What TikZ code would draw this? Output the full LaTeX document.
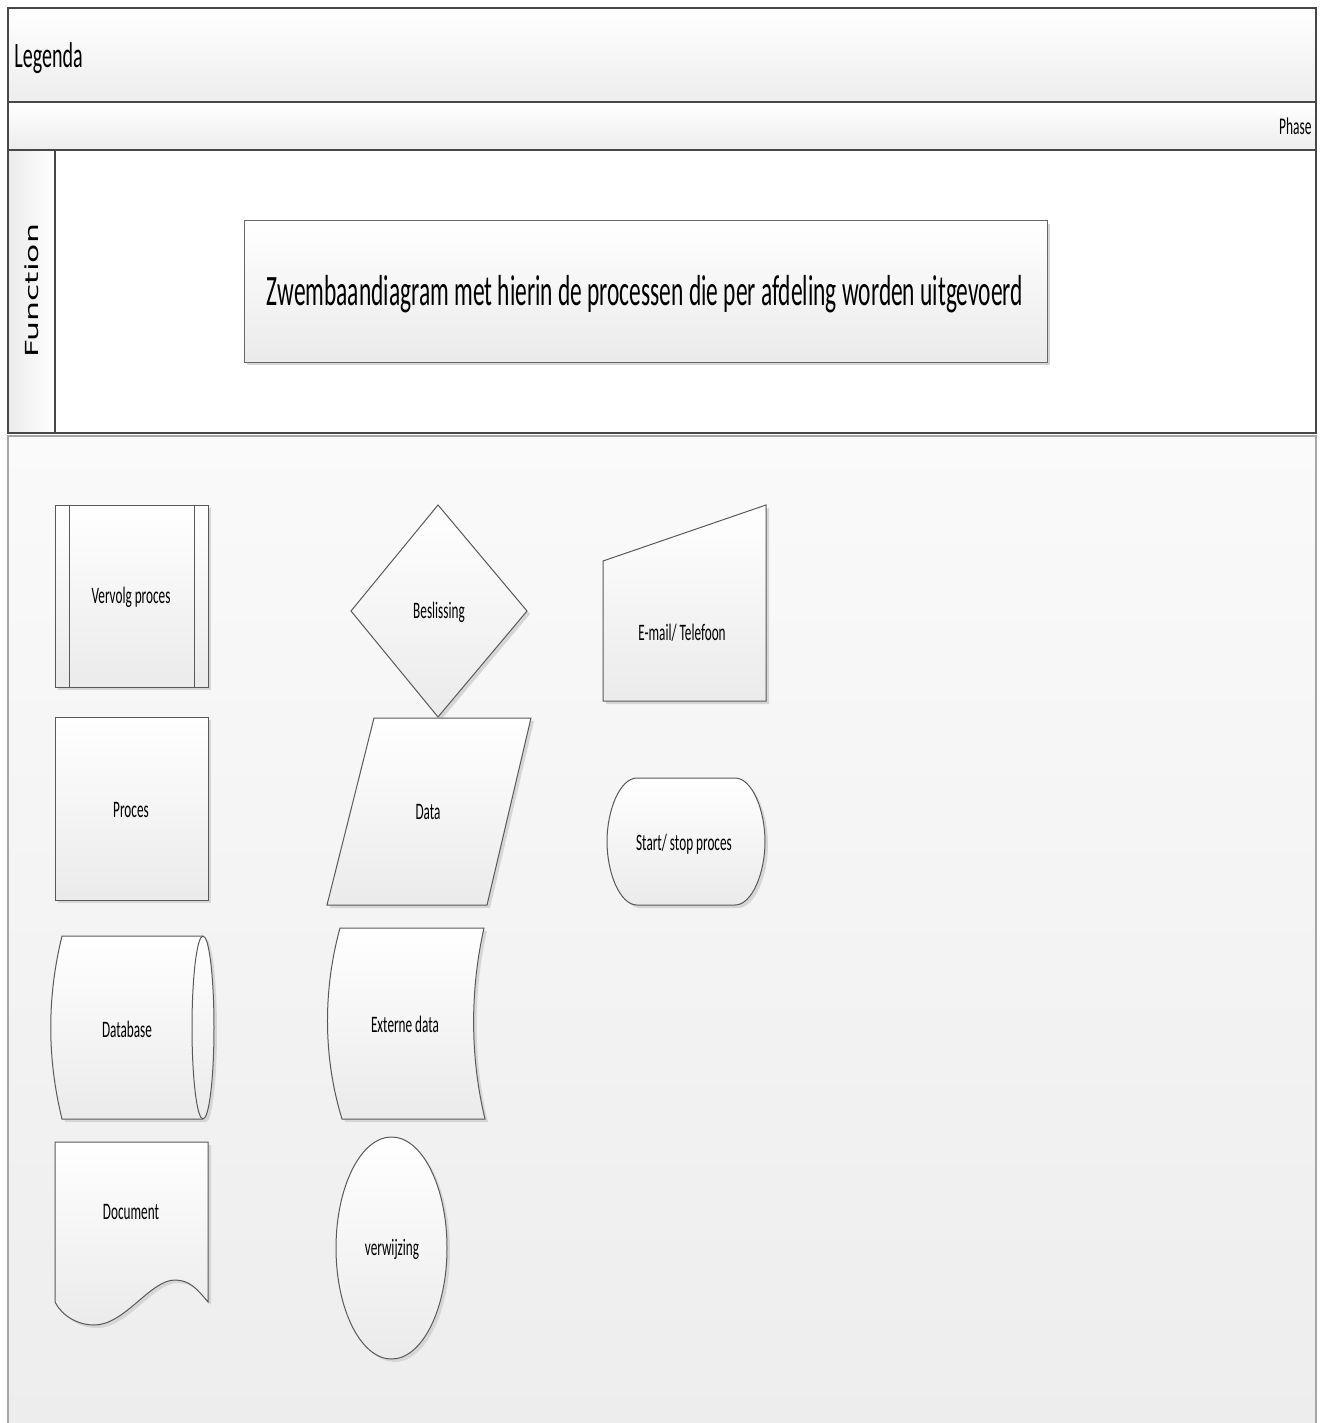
\documentclass[tikz,border=0pt]{standalone}
\usepackage{fontspec}
\setmainfont{Carlito}
\newfontfamily\dejavu{DejaVu Sans}
\usetikzlibrary{shadows}
\newcommand\narrowtxt[1]{\scalebox{0.56}[1]{#1}}
\begin{document}
\begin{tikzpicture}[x=0.5pt,y=-0.5pt,
  frame/.style={draw=black!72, line width=1pt},
  shp/.style={draw=black!65, line width=0.5pt, top color=white, bottom color=black!8,
    drop shadow={shadow xshift=1.5pt, shadow yshift=-1.5pt, fill=black!16, opacity=1}},
  thinl/.style={draw=black!65, line width=0.5pt},
  lbl/.style={inner sep=0pt, anchor=base, font=\fontsize{11.8}{13}\selectfont}]
\useasboundingbox (0,0) rectangle (1326,1423);
\fill[white] (0,0) rectangle (1326,1423);
% lower legend area
\fill[top color=black!2, bottom color=black!7] (8,436) rectangle (1316,1423);
\draw[draw=black!35, line width=0.6pt] (8,1423) -- (8,436) -- (1316,436) -- (1316,1423);
% header rows
\draw[frame, top color=white, bottom color=black!7] (8,8) rectangle (1316,102);
\draw[frame, top color=white, bottom color=black!7] (8,102) rectangle (1316,150);
\draw[frame, fill=white] (8,150) rectangle (1316,433);
\draw[frame, left color=black!8, right color=white] (8,150) rectangle (55,433);
\node[inner sep=0pt, anchor=base west, font=\fontsize{17.9}{20}\selectfont] (legenda) at (14,68) {\narrowtxt{Legenda}};
\node[inner sep=0pt, anchor=base east, font=\fontsize{12}{14}\selectfont] (phase) at (1312,135) {\narrowtxt{Phase}};
\node[inner sep=0pt, rotate=90, font=\dejavu\fontsize{9}{11}\selectfont] (function) at (31.5,291) {\scalebox{1.75}[1]{Function}};
% title box
\draw[shp, draw=black!60] (244,221) rectangle (1047,362);
\node[inner sep=0pt, anchor=base, font=\fontsize{21.7}{24}\selectfont] (title) at (645,305) {\scalebox{0.54}[1]{Zwembaandiagram met hierin de processen die per afdeling worden uitgevoerd}};
% Vervolg proces
\draw[shp] (55,505) rectangle (208,687);
\draw[thinl] (69,505) -- (69,687);
\draw[thinl] (194,505) -- (194,687);
\node[lbl] (vervolg) at (131,603) {\narrowtxt{Vervolg proces}};
% Beslissing
\draw[shp] (438,505) -- (527,611) -- (438,717) -- (351,611) -- cycle;
\node[lbl] (beslissing) at (439,618) {\narrowtxt{Beslissing}};
% E-mail / Telefoon
\draw[shp] (603,561) -- (766,505) -- (766,701) -- (603,701) -- cycle;
\node[lbl] (email) at (682,640) {\narrowtxt{E-mail/ Telefoon}};
% Proces
\draw[shp] (55,717) rectangle (208,900);
\node[lbl] (proces) at (131,817) {\narrowtxt{Proces}};
% Data
\draw[shp] (374,718) -- (531,718) -- (487,905) -- (327,905) -- cycle;
\node[lbl] (data) at (428,819) {\narrowtxt{Data}};
% Start/ stop proces
\draw[shp] (637,778) -- (735,778) .. controls (752,778) and (765,810) .. (765,841.5)
  .. controls (765,873) and (752,905) .. (735,905) -- (637,905)
  .. controls (620,905) and (607,873) .. (607,841.5)
  .. controls (607,810) and (620,778) .. (637,778) -- cycle;
\node[lbl] (startstop) at (684,850) {\narrowtxt{Start/ stop proces}};
% Database
\draw[shp] (62,936) -- (203,936) .. controls (209.1,936) and (214,977) .. (214,1027.5)
  .. controls (214,1078) and (209.1,1119) .. (203,1119) -- (62,1119)
  .. controls (47,1058) and (47,997) .. (62,936) -- cycle;
\draw[thinl] (203,936) .. controls (196.9,936) and (192,977) .. (192,1027.5)
  .. controls (192,1078) and (196.9,1119) .. (203,1119);
\node[lbl] (database) at (127,1037) {\narrowtxt{Database}};
% Externe data
\draw[shp] (340,928) -- (484,928) .. controls (470,990) and (470,1057) .. (485,1119)
  -- (342,1119) .. controls (323,1057) and (323,990) .. (340,928) -- cycle;
\node[lbl] (extern) at (405,1032) {\narrowtxt{Externe data}};
% Document
\draw[shp] (55,1142) -- (208,1142) -- (208,1302)
  .. controls (198,1290) and (190,1280) .. (175,1280)
  .. controls (150,1280) and (125,1325) .. (94,1325)
  .. controls (78,1325) and (62,1316) .. (55,1302) -- cycle;
\node[lbl] (document) at (131,1219) {\narrowtxt{Document}};
% verwijzing
\draw[shp] (391.5,1248) ellipse [x radius=55.5, y radius=111];
\node[lbl] (verwijzing) at (392,1255) {\narrowtxt{verwijzing}};
\end{tikzpicture}
\end{document}
